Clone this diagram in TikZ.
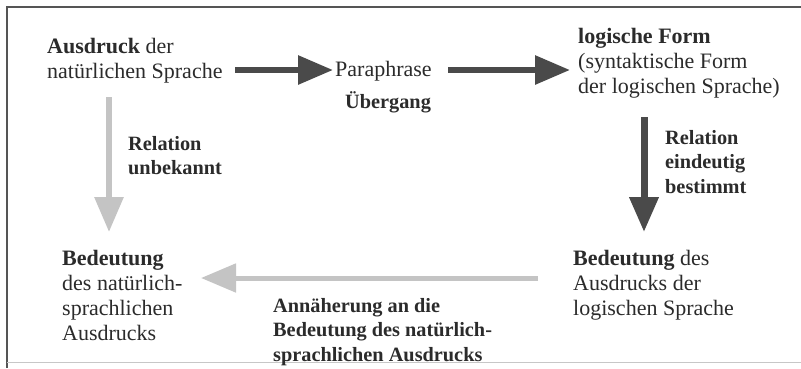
\documentclass[tikz,border=0pt]{standalone}
\usepackage{fontspec}
\setmainfont{Liberation Serif}
\usetikzlibrary{arrows.meta}
\definecolor{txt}{HTML}{2B2B2B}
\definecolor{darkarr}{HTML}{4A4A4A}
\definecolor{lightarr}{HTML}{C4C4C4}
\definecolor{framec}{HTML}{555555}
\newcommand\blk[1]{\begin{tabular}[t]{@{}l@{}}#1\end{tabular}}
\begin{document}
\begin{tikzpicture}[x=1pt,y=-1pt,
  txtnode/.style={anchor=base west, inner sep=0pt, text=txt, font=\fontsize{22}{25}\selectfont},
  lblnode/.style={anchor=base west, inner sep=0pt, text=txt, font=\fontsize{20.3}{24.5}\selectfont\bfseries},
  bigarrow/.style={line width=6pt, -{Triangle[length=35pt,width=28pt]}},
  darkarrow/.style={bigarrow, draw=darkarr, fill=darkarr},
  lightarrow/.style={bigarrow, draw=lightarr, fill=lightarr}]
\useasboundingbox (0,0) rectangle (801,368);
\fill[white] (0,0) rectangle (801,368);
% frame
\draw[line width=2.5pt, framec] (7,368) -- (7,7) -- (801,7);
\draw[line width=1pt, black!22] (7,362) -- (801,362);
% text nodes
\node[txtnode] (aus) at (47,53) {\blk{\textbf{Ausdruck} der\\natürlichen Sprache}};
\node[txtnode] (para) at (335,76) {Paraphrase};
\node[lblnode] (ueb) at (345,108) {Übergang};
\node[txtnode] (form) at (578,43) {\blk{\textbf{logische Form}\\(syntaktische Form\\der logischen Sprache)}};
\node[lblnode] (relu) at (128,150) {\blk{Relation\\unbekannt}};
\node[lblnode] (rele) at (665,144) {\blk{Relation\\eindeutig\\bestimmt}};
\node[txtnode] (bedn) at (62,265) {\blk{\textbf{Bedeutung}\\des natürlich-\\sprachlichen\\Ausdrucks}};
\node[txtnode] (bedl) at (573,265) {\blk{\textbf{Bedeutung} des\\Ausdrucks der\\logischen Sprache}};
\node[lblnode] (ann) at (273,312) {\blk{Annäherung an die\\Bedeutung des natürlich-\\sprachlichen Ausdrucks}};
% connector end points
\coordinate (a1s) at (235,70);
\coordinate (a1e) at (333,70);
\coordinate (a2s) at (448,70);
\coordinate (a2e) at (570,70);
\coordinate (vls) at (109,97);
\coordinate (vle) at (109,232);
\coordinate (vrs) at (644,117);
\coordinate (vre) at (644,232);
\coordinate (hbs) at (538,278);
\coordinate (hbe) at (201,278);
% connectors
\draw[darkarrow] (a1s) -- (a1e);
\draw[darkarrow] (a2s) -- (a2e);
\draw[lightarrow] (vls) -- (vle);
\draw[darkarrow, line width=7pt] (vrs) -- (vre);
\draw[lightarrow, line width=5pt] (hbs) -- (hbe);
\end{tikzpicture}
\end{document}
